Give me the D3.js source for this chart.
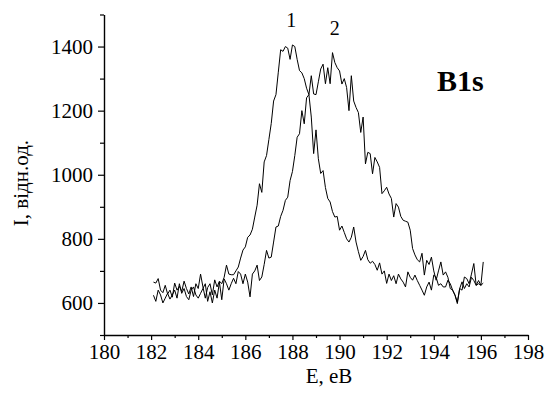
<!DOCTYPE html>
<html>
<head>
<meta charset="utf-8">
<script src="https://cdn.jsdelivr.net/npm/d3@7"></script>
<style>
    body { margin: 0; background: #fff; }
    svg text { font-family: "Liberation Serif", "Times New Roman", serif; fill: #000; }
</style>
</head>
<body>
<div id="chart"></div>
<script>
// Data
const energies = [
    182.1, 182.2, 182.3, 182.4, 182.5, 182.6, 182.7, 182.8, 182.9, 183.0,
    183.1, 183.2, 183.3, 183.4, 183.5, 183.6, 183.7, 183.8, 183.9, 184.0,
    184.1, 184.2, 184.3, 184.4, 184.5, 184.6, 184.7, 184.8, 184.9, 185.0,
    185.1, 185.2, 185.3, 185.4, 185.5, 185.6, 185.7, 185.8, 185.9, 186.0,
    186.1, 186.2, 186.3, 186.4, 186.5, 186.6, 186.7, 186.8, 186.9, 187.0,
    187.1, 187.2, 187.3, 187.4, 187.5, 187.6, 187.7, 187.8, 187.9, 188.0,
    188.1, 188.2, 188.3, 188.4, 188.5, 188.6, 188.7, 188.8, 188.9, 189.0,
    189.1, 189.2, 189.3, 189.4, 189.5, 189.6, 189.7, 189.8, 189.9, 190.0,
    190.1, 190.2, 190.3, 190.4, 190.5, 190.6, 190.7, 190.8, 190.9, 191.0,
    191.1, 191.2, 191.3, 191.4, 191.5, 191.6, 191.7, 191.8, 191.9, 192.0,
    192.1, 192.2, 192.3, 192.4, 192.5, 192.6, 192.7, 192.8, 192.9, 193.0,
    193.1, 193.2, 193.3, 193.4, 193.5, 193.6, 193.7, 193.8, 193.9, 194.0,
    194.1, 194.2, 194.3, 194.4, 194.5, 194.6, 194.7, 194.8, 194.9, 195.0,
    195.1, 195.2, 195.3, 195.4, 195.5, 195.6, 195.7, 195.8, 195.9, 196.0,
    196.1
];

const curve1 = [
    665, 662, 676, 640, 632, 655, 628, 640, 618, 662,
    640, 652, 636, 668, 645, 628, 650, 620, 660, 645,
    690, 650, 615, 648, 660, 625, 672, 650, 668, 660,
    680, 718, 690, 688, 688, 700, 712, 740, 765, 775,
    805, 812, 830, 868, 905, 972, 945, 1040, 1060, 1110,
    1160, 1230, 1250, 1320, 1390, 1385, 1400, 1395, 1360, 1405,
    1400, 1360, 1325, 1318, 1300, 1270, 1250, 1180, 1066, 1140,
    1050, 1004, 1013, 960, 926, 915, 885, 868, 870, 827,
    840, 820, 800, 790, 805, 837, 790, 760, 733, 745,
    764, 735, 724, 730, 720, 702, 725, 690, 700, 661,
    690, 670, 685, 660, 690, 675, 665, 650, 697, 680,
    671, 687, 670, 655, 640, 624, 650, 665, 640, 687,
    680, 655, 660, 650, 650, 671, 660, 640, 625, 603,
    645, 666, 645, 660, 650, 680, 670, 655, 660, 655,
    662
];

const curve2 = [
    624, 605, 640, 625, 600, 615, 630, 612, 625, 640,
    615, 660, 630, 645, 620, 610, 640, 650, 625, 615,
    630, 645, 660, 605, 635, 600, 640, 615, 665, 610,
    675, 660, 640, 660, 677, 660, 698, 690, 660, 690,
    665, 619, 690, 700, 718, 670, 681, 720, 764, 740,
    743, 790, 837, 840, 870, 889, 920, 930, 982, 1010,
    1060, 1117, 1128, 1200, 1159, 1240, 1250, 1309, 1252, 1250,
    1290, 1330, 1345, 1284, 1334, 1284, 1381, 1350, 1334, 1324,
    1283, 1300, 1272, 1200, 1309, 1230, 1210, 1194, 1132, 1180,
    1034, 1070, 1066, 1003, 1054, 1040, 1023, 941, 950, 961,
    940, 926, 868, 910, 899, 870, 858, 855, 852, 827,
    770, 750, 735, 728, 755, 687, 733, 720, 743, 700,
    671, 700, 728, 687, 697, 680, 645, 640, 624, 598,
    645, 640, 681, 676, 660, 690, 723, 655, 670, 655,
    728
];

const xMajorTicks = [180, 182, 184, 186, 188, 190, 192, 194, 196, 198];
const xMinorTicks = [181, 183, 185, 187, 189, 191, 193, 195, 197];
const yMajorTicks = [600, 800, 1000, 1200, 1400];
const yMinorTicks = [500, 700, 900, 1100, 1300, 1500];

const curveLabels = [
    { text: '1', e: 187.95, i: 1460 },
    { text: '2', e: 189.8, i: 1435 }
];

// Dimensions
const svgWidth = 547;
const svgHeight = 394;
const margin = { top: 14.5, right: 19, bottom: 59, left: 104 };
const serif = '"Liberation Serif", "Times New Roman", serif';

const svg = d3.select('#chart')
    .append('svg')
    .attr('width', svgWidth)
    .attr('height', svgHeight);

const xScale = d3.scaleLinear()
    .domain([180, 198])
    .range([margin.left, svgWidth - margin.right]);
const yScale = d3.scaleLinear()
    .domain([500, 1500])
    .range([svgHeight - margin.bottom, margin.top]);

// Axes
const styleAxis = g => {
    g.attr('font-family', serif).attr('font-size', 21);
    g.select('.domain').attr('stroke', '#000').attr('stroke-width', 1.4);
    g.selectAll('.tick line').attr('stroke', '#000').attr('stroke-width', 1.2);
    g.selectAll('.tick text').attr('fill', '#000');
};

svg.append('g')
    .attr('transform', `translate(0, ${yScale(500)})`)
    .call(d3.axisBottom(xScale).tickValues(xMinorTicks).tickSize(3).tickSizeOuter(0).tickFormat(''))
    .call(g => g.select('.domain').remove())
    .call(styleAxis);

svg.append('g')
    .attr('transform', `translate(0, ${yScale(500)})`)
    .call(d3.axisBottom(xScale).tickValues(xMajorTicks).tickSize(5).tickSizeOuter(0).tickPadding(4).tickFormat(d3.format('d')))
    .call(styleAxis);

svg.append('g')
    .attr('transform', `translate(${xScale(180)}, 0)`)
    .call(d3.axisLeft(yScale).tickValues(yMinorTicks).tickSize(4).tickSizeOuter(0).tickFormat(''))
    .call(g => g.select('.domain').remove())
    .call(styleAxis);

svg.append('g')
    .attr('transform', `translate(${xScale(180)}, 0)`)
    .call(d3.axisLeft(yScale).tickValues(yMajorTicks).tickSize(6).tickSizeOuter(0).tickPadding(5).tickFormat(d3.format('d')))
    .call(styleAxis);

// Curves
const line = d3.line()
    .x((d, i) => xScale(energies[i]))
    .y(d => yScale(d));

[curve1, curve2].forEach(series => {
    svg.append('path')
        .datum(series)
        .attr('fill', 'none')
        .attr('stroke', '#000')
        .attr('stroke-width', 1)
        .attr('stroke-linejoin', 'round')
        .attr('d', line);
});

// Labels
svg.selectAll('.curve-label')
    .data(curveLabels)
    .enter()
    .append('text')
    .attr('class', 'curve-label')
    .attr('x', d => xScale(d.e))
    .attr('y', d => yScale(d.i))
    .attr('text-anchor', 'middle')
    .attr('font-size', 20)
    .text(d => d.text);

svg.append('text')
    .attr('x', 437)
    .attr('y', 91)
    .attr('font-size', 30)
    .attr('font-weight', 'bold')
    .text('B1s');

svg.append('text')
    .attr('x', (xScale(180) + xScale(198)) / 2 + 13)
    .attr('y', 383)
    .attr('text-anchor', 'middle')
    .attr('font-size', 21)
    .text('E, eB');

svg.append('text')
    .attr('transform', 'translate(28, 183) rotate(-90)')
    .attr('text-anchor', 'middle')
    .attr('font-size', 21)
    .text('I, відн.од.');
</script>
</body>
</html>
